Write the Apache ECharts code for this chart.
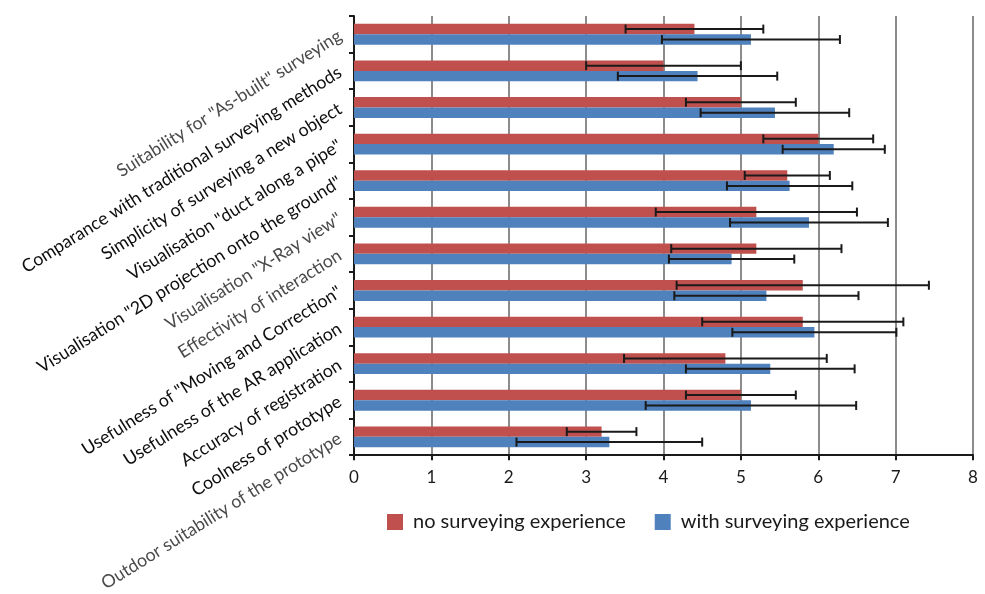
<!DOCTYPE html>
<html>
<head>
<meta charset="utf-8">
<script src="https://cdn.jsdelivr.net/npm/echarts@6/dist/echarts.min.js"></script>
<style>
  html, body { margin: 0; padding: 0; background: #fff; }
  #chart { width: 985px; height: 594px; }
</style>
</head>
<body>
<div id="chart"></div>
<script>
// Questionnaire items, listed top to bottom
var categories = [
  'Suitability for "As-built" surveying',
  'Comparance with traditional surveying methods',
  'Simplicity of surveying a new object',
  'Visualisation "duct along a pipe"',
  'Visualisation "2D projection onto the ground"',
  'Visualisation "X-Ray view"',
  'Effectivity of interaction',
  'Usefulness of "Moving and Correction"',
  'Usefulness of the AR application',
  'Accuracy of registration',
  'Coolness of prototype',
  'Outdoor suitability of the prototype'
];
// Items whose label is drawn in the lighter tone
var lightLabels = [0, 5, 6, 11];

var seriesNames = ['no surveying experience', 'with surveying experience'];

// Mean ratings
var meanNoExp   = [4.4, 4.0, 5.0, 6.0, 5.6, 5.2, 5.2, 5.8, 5.8, 4.8, 5.0, 3.2];
var meanWithExp = [5.13, 4.44, 5.44, 6.2, 5.63, 5.88, 4.88, 5.33, 5.95, 5.38, 5.13, 3.3];
// Standard deviations (error bars)
var sdNoExp     = [0.89, 1.0, 0.71, 0.71, 0.55, 1.3, 1.1, 1.63, 1.3, 1.31, 0.71, 0.45];
var sdWithExp   = [1.15, 1.03, 0.96, 0.66, 0.81, 1.02, 0.81, 1.19, 1.06, 1.09, 1.36, 1.2];

var xTicks = [0, 1, 2, 3, 4, 5, 6, 7, 8];

var colors = ['#c0504d', '#4f81bd'];
var BAR_GAP_RATIO = 0.43;

function errorData(means, sds) {
  return means.map(function (m, i) { return [i, m, sds[i]]; });
}

function errorSeries(name, means, sds, side) {
  return {
    type: 'custom',
    name: name + ' error',
    z: 10,
    silent: true,
    encode: { y: 0, x: 1 },
    data: errorData(means, sds),
    renderItem: function (params, api) {
      var c = api.value(0);
      var m = api.value(1);
      var s = api.value(2);
      var band = api.size([0, 1])[1];
      var barW = band * (1 - BAR_GAP_RATIO) / 2;
      var off = side * barW / 2;
      var a = api.coord([m - s, c]);
      var b = api.coord([m + s, c]);
      var y = a[1] + off;
      var cap = 4.5;
      var style = { stroke: '#1a1a1a', lineWidth: 2, fill: null };
      return {
        type: 'group',
        children: [
          { type: 'line', shape: { x1: a[0], y1: y, x2: b[0], y2: y }, style: style },
          { type: 'line', shape: { x1: a[0], y1: y - cap, x2: a[0], y2: y + cap }, style: style },
          { type: 'line', shape: { x1: b[0], y1: y - cap, x2: b[0], y2: y + cap }, style: style }
        ]
      };
    }
  };
}

var chart = echarts.init(document.getElementById('chart'));
var fontFamily = 'Lato, "Open Sans", sans-serif';

chart.setOption({
  animation: false,
  textStyle: { fontFamily: fontFamily },
  grid: { left: 354, right: 12, top: 16, bottom: 135, containLabel: false },
  legend: {
    data: seriesNames,
    top: 507,
    left: 382,
    icon: 'rect',
    itemWidth: 16,
    itemHeight: 16,
    itemGap: 29,
    textStyle: { fontSize: 20, color: '#1a1a1a', fontFamily: fontFamily, padding: [0, 0, 0, 5] }
  },
  xAxis: {
    type: 'value',
    min: xTicks[0],
    max: xTicks[xTicks.length - 1],
    interval: 1,
    axisLine: { show: true, lineStyle: { color: '#1a1a1a', width: 2 } },
    axisTick: { show: true, length: 5, lineStyle: { color: '#1a1a1a', width: 2 } },
    axisLabel: { fontSize: 17, color: '#1a1a1a', margin: 14 },
    splitLine: { show: true, lineStyle: { color: '#8c8c8c', width: 2 } }
  },
  yAxis: {
    type: 'category',
    inverse: true,
    data: categories,
    axisLine: { show: true, lineStyle: { color: '#1a1a1a', width: 2 } },
    axisTick: { show: true, length: 5, lineStyle: { color: '#1a1a1a', width: 2 } },
    axisLabel: {
      rotate: 32,
      fontSize: 17.8,
      margin: 14,
      interval: 0,
      color: function (value, index) {
        return lightLabels.indexOf(index) >= 0 ? '#4a4a4a' : '#0d0d0d';
      }
    }
  },
  series: [
    {
      type: 'bar',
      name: seriesNames[0],
      data: meanNoExp,
      itemStyle: { color: colors[0] },
      barGap: '0%',
      barCategoryGap: (BAR_GAP_RATIO * 100) + '%'
    },
    {
      type: 'bar',
      name: seriesNames[1],
      data: meanWithExp,
      itemStyle: { color: colors[1] },
      barGap: '0%',
      barCategoryGap: (BAR_GAP_RATIO * 100) + '%'
    },
    errorSeries(seriesNames[0], meanNoExp, sdNoExp, -1),
    errorSeries(seriesNames[1], meanWithExp, sdWithExp, 1)
  ]
});
</script>
</body>
</html>
